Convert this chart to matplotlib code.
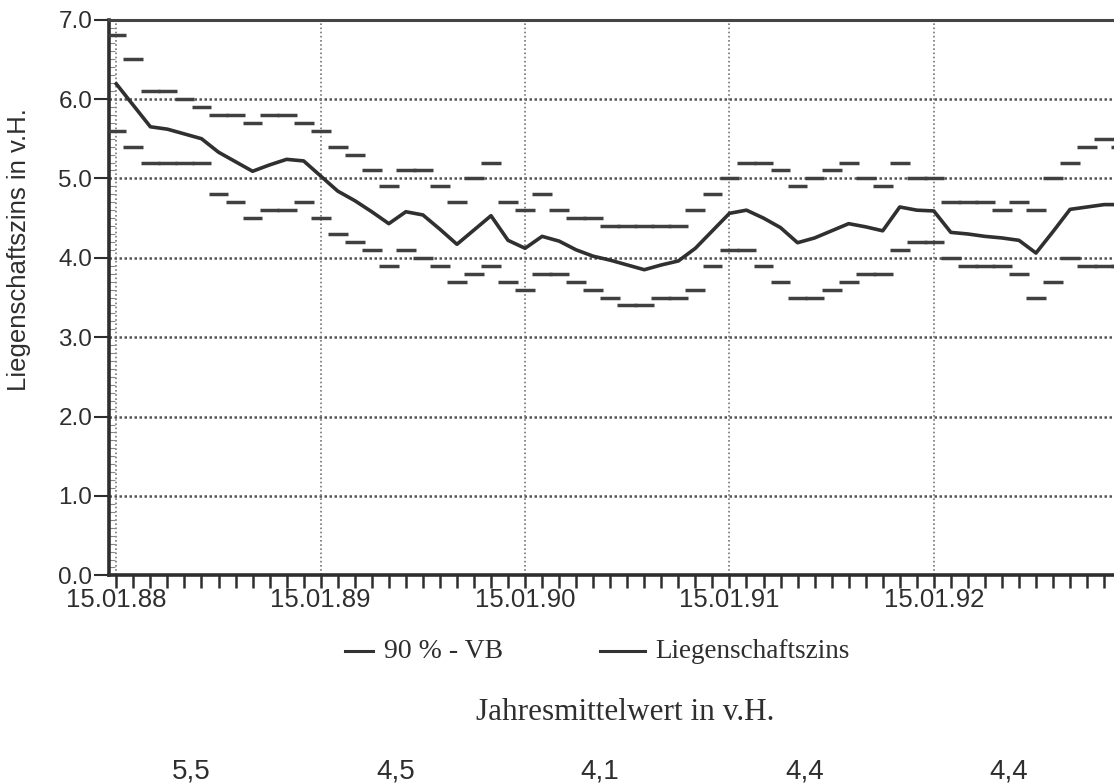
import numpy as np
import matplotlib.pyplot as plt
from matplotlib.lines import Line2D
from matplotlib.transforms import blended_transform_factory
from matplotlib.ticker import MultipleLocator, FormatStrFormatter

# monthly values from 15.01.88 on, v.H.
zins = [6.19, 5.92, 5.65, 5.62, 5.56, 5.50, 5.33, 5.21, 5.09, 5.17, 5.24, 5.22,
        5.03, 4.84, 4.72, 4.58, 4.43, 4.58, 4.54, 4.36, 4.17, 4.35, 4.53, 4.22,
        4.12, 4.27, 4.21, 4.10, 4.02, 3.97, 3.91, 3.85, 3.91, 3.96, 4.12, 4.34,
        4.56, 4.60, 4.50, 4.38, 4.19, 4.25, 4.34, 4.43, 4.39, 4.34, 4.64, 4.60,
        4.59, 4.32, 4.30, 4.27, 4.25, 4.22, 4.06, 4.33, 4.61, 4.64, 4.67, 4.67]
vb_oben = [6.8, 6.5, 6.1, 6.1, 6.0, 5.9, 5.8, 5.8, 5.7, 5.8, 5.8, 5.7,
           5.6, 5.4, 5.3, 5.1, 4.9, 5.1, 5.1, 4.9, 4.7, 5.0, 5.2, 4.7,
           4.6, 4.8, 4.6, 4.5, 4.5, 4.4, 4.4, 4.4, 4.4, 4.4, 4.6, 4.8,
           5.0, 5.2, 5.2, 5.1, 4.9, 5.0, 5.1, 5.2, 5.0, 4.9, 5.2, 5.0,
           5.0, 4.7, 4.7, 4.7, 4.6, 4.7, 4.6, 5.0, 5.2, 5.4, 5.5, 5.4]
vb_unten = [5.6, 5.4, 5.2, 5.2, 5.2, 5.2, 4.8, 4.7, 4.5, 4.6, 4.6, 4.7,
            4.5, 4.3, 4.2, 4.1, 3.9, 4.1, 4.0, 3.9, 3.7, 3.8, 3.9, 3.7,
            3.6, 3.8, 3.8, 3.7, 3.6, 3.5, 3.4, 3.4, 3.5, 3.5, 3.6, 3.9,
            4.1, 4.1, 3.9, 3.7, 3.5, 3.5, 3.6, 3.7, 3.8, 3.8, 4.1, 4.2,
            4.2, 4.0, 3.9, 3.9, 3.9, 3.8, 3.5, 3.7, 4.0, 3.9, 3.9, 3.9]
jahre = ['15.01.88', '15.01.89', '15.01.90', '15.01.91', '15.01.92']
mittel = ['5,5', '4,5', '4,1', '4,4', '4,4']

sans = 'Liberation Sans'
serif = 'Liberation Serif'
ink = '#2e2e2e'

W, H = 1114, 784
fig = plt.figure(figsize=(W/100, H/100), dpi=100)
ax = fig.add_axes([109/W, (H-575.4)/H, 1-109/W, (575.4-19.6)/H])

months = np.arange(len(zins))
ax.hlines(vb_oben, months-0.58, months+0.58, color='#404040', lw=2.5, zorder=3)
ax.hlines(vb_unten, months-0.58, months+0.58, color='#404040', lw=2.5, zorder=3)
ax.plot(months, zins, color='#303030', lw=2.6, zorder=4)

ax.set_xlim(-0.43, 58.58)
ax.set_ylim(0, 7)

ax.set_yticks(np.arange(0, 8))
ax.yaxis.set_major_formatter(FormatStrFormatter('%.1f'))
ax.yaxis.set_minor_locator(MultipleLocator(0.1))
ax.set_xticks([0, 12, 24, 36, 48])
ax.set_xticklabels(jahre)
ax.xaxis.set_minor_locator(MultipleLocator(1))

ax.tick_params(axis='y', which='major', direction='out', length=11, width=1.5,
               labelsize=17.5, pad=1, colors=ink)
ax.tick_params(axis='y', which='minor', direction='in', length=4, width=0.8, color='#888888')
ax.tick_params(axis='x', which='both', direction='out', length=9, width=1.8,
               labelsize=18.5, pad=0, colors=ink)
for lab in ax.get_xticklabels() + ax.get_yticklabels():
    lab.set_fontfamily(sans)

for s in ['left', 'bottom']:
    ax.spines[s].set_linewidth(2.6)
    ax.spines[s].set_color(ink)
ax.spines['top'].set_linewidth(2.2)
ax.spines['top'].set_color('#444444')
ax.spines['right'].set_visible(False)

for v in range(1, 7):
    ax.axhline(v, color='#555555', lw=1.8, ls=(0, (1, 1)), zorder=1)
for m in [0, 12, 24, 36, 48]:
    ax.axvline(m, color='#777777', lw=1.2, ls=(0, (1, 1.5)), zorder=1)

fig.text(19/W, 1-250/H, 'Liegenschaftszins in v.H.', rotation=90, ha='center', va='center',
         fontsize=18.5, family=sans, color=ink)

ly = 1 - 651/H
fig.add_artist(Line2D([345/W, 373/W], [ly, ly], color='#333333', lw=2.2))
fig.text(384/W, ly, '90 % - VB', ha='left', va='center', fontsize=20, family=serif, color=ink)
fig.add_artist(Line2D([600/W, 645/W], [ly, ly], color='#333333', lw=2.2))
fig.text(655/W, ly, 'Liegenschaftszins', ha='left', va='center', fontsize=19.5, family=serif, color=ink)

fig.text(625/W, 1-713/H, 'Jahresmittelwert in v.H.', ha='center', va='center',
         fontsize=22.5, family=serif, color=ink)

tr = blended_transform_factory(ax.transData, fig.transFigure)
for i, txt in enumerate(mittel):
    ax.text(12*i + 4.4, 1-772/H, txt, transform=tr, ha='center', va='center',
            fontsize=20, family=sans, color=ink, clip_on=False)

fig.savefig('out.png', dpi=100)
